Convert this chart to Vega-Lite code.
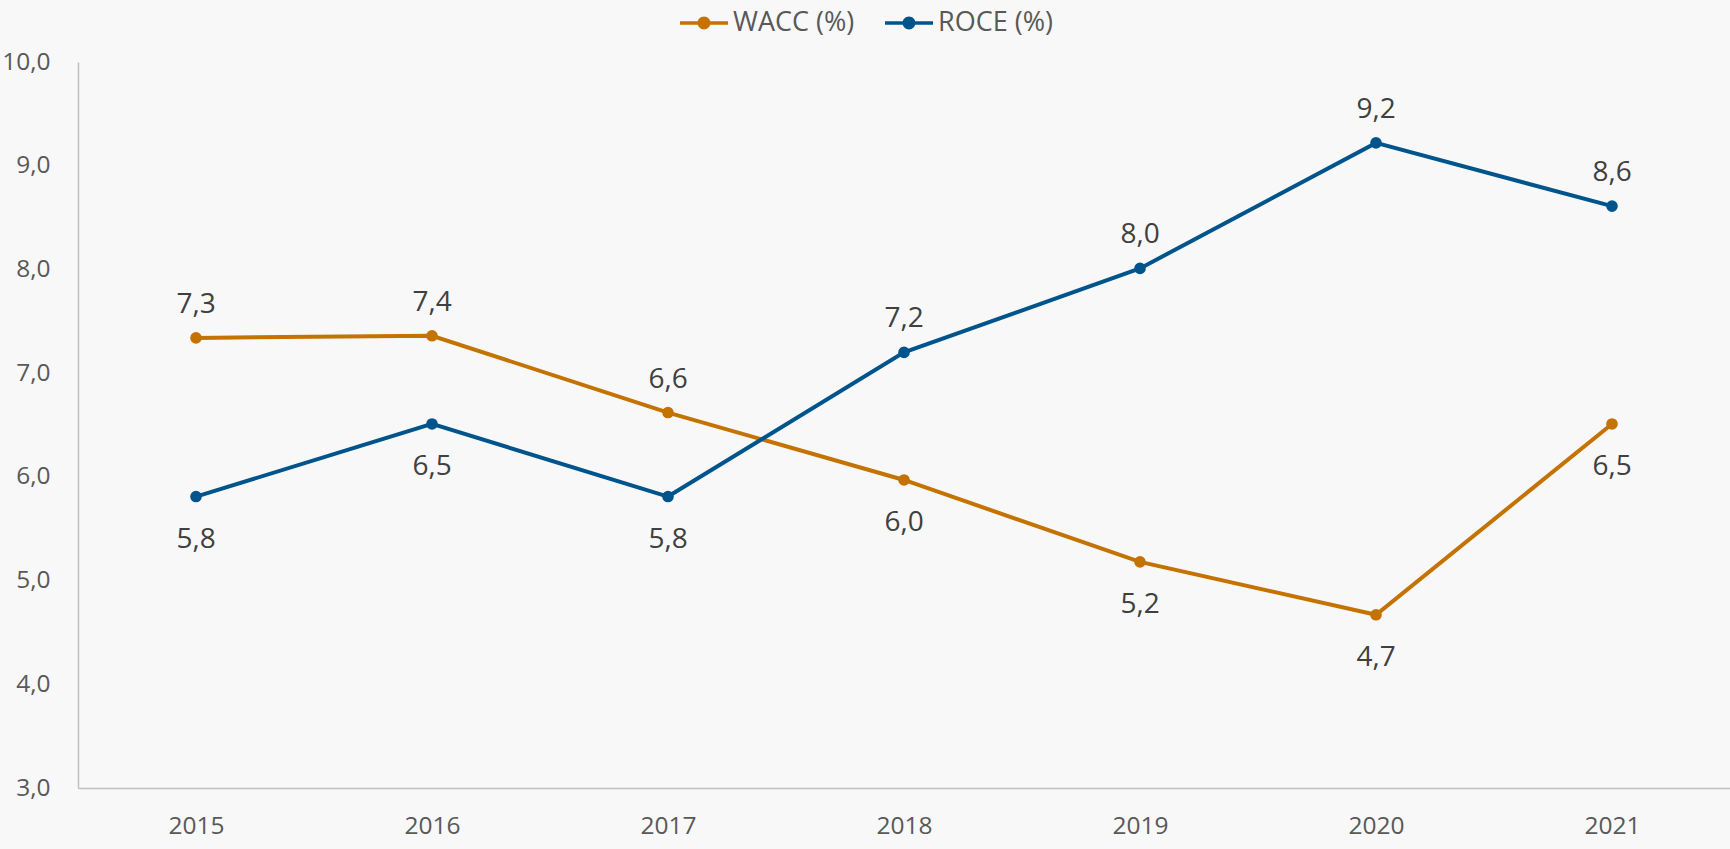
{
  "$schema": "https://vega.github.io/schema/vega-lite/v6.json",
  "width": 1652,
  "height": 726,
  "autosize": {"type": "none"},
  "padding": {"left": 78, "top": 62, "right": 0, "bottom": 61},
  "background": "#F8F8F8",
  "config": {
    "locale": {"number": {"decimal": ",", "thousands": ".", "grouping": [3], "currency": ["", " €"]}},
    "font": "Open Sans",
    "view": {"stroke": null},
    "axis": {"domainColor": "#BFBFBF", "domainWidth": 1.5, "ticks": false, "grid": false, "labelColor": "#595959", "labelFontSize": 24.5, "labelFont": "Open Sans", "title": null}
  },
  "data": {
    "values": [
      {"year": "2015", "series": "WACC (%)", "value": 7.34},
      {"year": "2016", "series": "WACC (%)", "value": 7.36},
      {"year": "2017", "series": "WACC (%)", "value": 6.62},
      {"year": "2018", "series": "WACC (%)", "value": 5.97},
      {"year": "2019", "series": "WACC (%)", "value": 5.18},
      {"year": "2020", "series": "WACC (%)", "value": 4.67},
      {"year": "2021", "series": "WACC (%)", "value": 6.51},
      {"year": "2015", "series": "ROCE (%)", "value": 5.81},
      {"year": "2016", "series": "ROCE (%)", "value": 6.51},
      {"year": "2017", "series": "ROCE (%)", "value": 5.81},
      {"year": "2018", "series": "ROCE (%)", "value": 7.2},
      {"year": "2019", "series": "ROCE (%)", "value": 8.01},
      {"year": "2020", "series": "ROCE (%)", "value": 9.22},
      {"year": "2021", "series": "ROCE (%)", "value": 8.61}
    ]
  },
  "encoding": {
    "x": {"field": "year", "type": "ordinal", "scale": {"type": "point", "padding": 0.5}, "axis": {"labelAngle": 0, "labelPadding": 26}},
    "y": {"field": "value", "type": "quantitative", "scale": {"domain": [3, 10], "nice": false, "zero": false}, "axis": {"values": [3, 4, 5, 6, 7, 8, 9, 10], "format": ".1f", "labelPadding": 28}}
  },
  "layer": [
    {
      "mark": {"type": "line", "strokeWidth": 4},
      "encoding": {
        "color": {
          "field": "series", "type": "nominal",
          "scale": {"domain": ["WACC (%)", "ROCE (%)"], "range": ["#C47200", "#00548C"]},
          "legend": {
            "orient": "none", "legendX": 602, "legendY": -63, "direction": "horizontal", "title": null,
            "symbolType": "M-1,-0.07 H1 V0.07 H-1 Z M0.27,0 A0.27,0.27 0 1,1 -0.27,0 A0.27,0.27 0 1,1 0.27,0 Z",
            "symbolSize": 2304, "symbolStrokeWidth": 0, "labelFontSize": 27, "labelColor": "#595959", "labelOffset": 5, "columnPadding": 30,
            "encode": {"symbols": {"update": {"fill": {"scale": "color", "field": "value"}, "strokeWidth": {"value": 0}}}}
          }
        }
      }
    },
    {
      "mark": {"type": "point", "filled": true, "size": 135, "opacity": 1},
      "encoding": {"color": {"field": "series", "type": "nominal", "legend": null}}
    },
    {
      "transform": [{"filter": "(datum.series == 'WACC (%)' && datum.year <= '2017') || (datum.series == 'ROCE (%)' && datum.year >= '2018')"}],
      "mark": {"type": "text", "dy": -33, "fontSize": 28, "color": "#404040", "baseline": "middle"},
      "encoding": {"text": {"field": "value", "type": "quantitative", "format": ".1f"}}
    },
    {
      "transform": [{"filter": "!((datum.series == 'WACC (%)' && datum.year <= '2017') || (datum.series == 'ROCE (%)' && datum.year >= '2018'))"}],
      "mark": {"type": "text", "dy": 43, "fontSize": 28, "color": "#404040", "baseline": "middle"},
      "encoding": {"text": {"field": "value", "type": "quantitative", "format": ".1f"}}
    }
  ]
}
